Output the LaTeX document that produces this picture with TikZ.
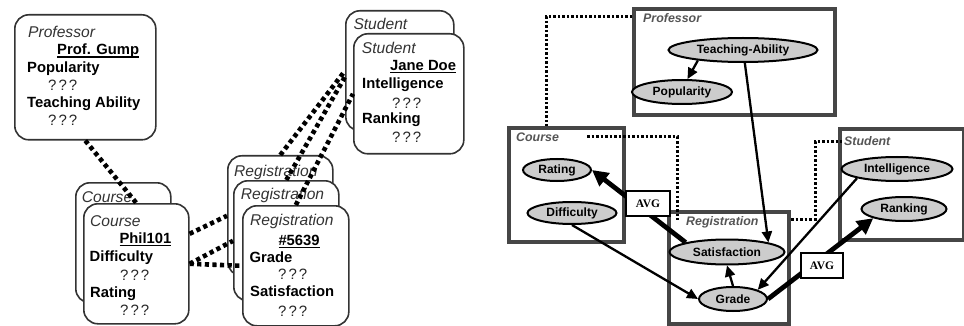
\documentclass[tikz,border=0pt]{standalone}
\usepackage{fontspec}
\setmainfont{Liberation Sans}
\newfontfamily\avgfont{Liberation Serif}
\usetikzlibrary{arrows.meta,shapes.geometric}
\definecolor{cLine}{HTML}{333333}
\definecolor{cFrame}{HTML}{464646}
\definecolor{cTtl}{HTML}{555555}
\definecolor{cVar}{HTML}{CCCCCC}
\tikzset{
  card/.style={rectangle, draw=cLine, line width=1.6pt, rounded corners=14pt, fill=white, anchor=north west, inner sep=0pt},
  ttl/.style={anchor=base west, inner sep=0pt, font=\fontsize{15.6}{18}\selectfont\itshape, text=black!80},
  fld/.style={anchor=base west, inner sep=0pt, font=\fontsize{14.8}{18}\selectfont\bfseries},
  val/.style={anchor=base west, inner sep=0pt, font=\fontsize{15}{18}\selectfont, text=black!85},
  link/.style={line width=4.6pt, dash pattern=on 4.2pt off 3.4pt},
  frame/.style={rectangle, draw=cFrame, line width=4.2pt, anchor=north west, inner sep=0pt},
  fttl/.style={anchor=base west, inner sep=0pt, font=\fontsize{12.4}{14}\selectfont\bfseries\itshape, text=cTtl},
  var/.style={ellipse, draw=black, line width=2pt, fill=cVar, inner sep=0pt, font=\fontsize{12}{14}\selectfont\bfseries},
  avg/.style={rectangle, draw=black, line width=1.8pt, fill=white, inner sep=0pt, font=\avgfont\fontsize{11.5}{13}\selectfont\bfseries},
  arr/.style={line width=2.3pt, -{Triangle[length=11pt,width=10pt]}},
  arrB/.style={line width=4.8pt, -{Triangle[length=16pt,width=16pt]}},
  dlink/.style={line width=3pt, dash pattern=on 2.5pt off 2pt},
}
\newcommand{\uname}[1]{\setbox0=\hbox{#1}\rlap{\rule[-2.6pt]{\wd0}{1.4pt}}\box0}
\newcommand{\qqq}{?\kern2pt?\kern2pt?}

\begin{document}
\begin{tikzpicture}[x=1pt, y=-1pt]
\useasboundingbox (0,0) rectangle (964,326);
% left: objects
\node[card, minimum width=141pt, minimum height=125pt] (prof) at (14,14) {};
\node[ttl] (profT) at (28,38) {Professor};
\node[fld] (profN) at (57,55) {\uname{Prof. Gump}};
\node[fld] (profP) at (27,72.5) {Popularity};
\node[val] (profPv) at (48,90.5) {\qqq};
\node[fld] (profA) at (27,107.5) {Teaching Ability};
\node[val] (profAv) at (48,126) {\qqq};
\foreach \nm/\x/\y/\w/\tx/\ty/\lab in {
  crsB/75/182/95/81.7/202.7/Course, crsF/83/203/105/90/226/Course,
  regB/227/155/105/234/176.7/Registration, regM/233/180/105/240.7/200/Registration,
  regF/242/205/106/250/225/Registration,
  stuB/345/10/108/353.3/30/Student, stuF/353/33/110/361.7/53.3/Student}{
  \node[card, minimum width=\w pt, minimum height=120pt] (\nm) at (\x,\y) {};
  \node[ttl] (\nm T) at (\tx,\ty) {\lab};
}
\node[fld] (crsN) at (119.3,243.3) {\uname{Phil101}};
\node[fld] (crsD) at (89.5,261.7) {Difficulty};
\node[val] (crsDv) at (120,280) {\qqq};
\node[fld] (crsR) at (90,297.3) {Rating};
\node[val] (crsRv) at (120,315.7) {\qqq};
\node[fld] (regN) at (278.3,245.7) {\uname{\#5639}};
\node[fld] (regG) at (249.5,262) {Grade};
\node[val] (regGv) at (278,279.3) {\qqq};
\node[fld] (regS) at (250,296.7) {Satisfaction};
\node[val] (regSv) at (278,316) {\qqq};
\node[fld] (stuN) at (390,70.7) {\uname{Jane Doe}};
\node[fld] (stuI) at (362,88.3) {Intelligence};
\node[val] (stuIv) at (392,108.3) {\qqq};
\node[fld] (stuR) at (362,124) {Ranking};
\node[val] (stuRv) at (392,142.7) {\qqq};
\draw[link] (prof.south) -- (crsF.north);
\draw[link] ([yshift=30pt]crsF.east) -- (regB.west);
\draw[link] (crsF.east) -- (regM.west);
\draw[link] (crsF.east) -- (regF.west);
\draw[link] (regB.north) -- (stuB.west);
\draw[link] (regM.north) -- ([yshift=-6pt]stuB.west);
\draw[link] (regF.north) -- (stuF.west);
% right: model
\node[frame, minimum width=201pt, minimum height=106pt] (profM) at (632,7) {};
\node[frame, minimum width=115pt, minimum height=114pt] (crsM) at (507,126) {};
\node[frame, minimum width=120pt, minimum height=112pt] (regM2) at (667,210) {};
\node[frame, minimum width=124pt, minimum height=111pt] (stuM) at (838,127) {};
\node[fttl] (profMt) at (643,23) {Professor};
\node[fttl] (crsMt) at (516,142) {Course};
\node[fttl] (regMt) at (686,225) {Registration};
\node[fttl] (stuMt) at (844,146) {Student};
\coordinate (pc1) at (632,17);
\coordinate (pc2) at (546,126);
\coordinate (cr1) at (587,137);
\coordinate (cr2) at (677,220);
\coordinate (rs1) at (791,219);
\coordinate (rs2) at (842,142);
\draw[dlink] (pc1) -| (pc2);
\draw[dlink] (cr1) -| (cr2);
\draw[dlink] (rs1) -- ++(24,0) |- (rs2);
\node[var, minimum width=149pt, minimum height=24pt] (ta) at (743,50) {Teaching-Ability};
\node[var, minimum width=100pt, minimum height=24pt] (pop) at (682,92) {Popularity};
\node[var, minimum width=68pt, minimum height=22pt] (rat) at (557,170) {Rating};
\node[var, minimum width=89pt, minimum height=22pt] (dif) at (572,213) {Difficulty};
\node[var, minimum width=115pt, minimum height=25pt] (sat) at (727,252) {Satisfaction};
\node[var, minimum width=68pt, minimum height=24pt] (grd) at (733,299) {Grade};
\node[var, minimum width=111pt, minimum height=24pt] (int) at (897,169) {Intelligence};
\node[var, minimum width=85pt, minimum height=24pt] (rnk) at (904,209) {Ranking};
\draw[arr] (ta.193) -- (pop.67);
\draw[arr] (ta.278) -- (sat.north east);
\draw[arr] (dif.south) -- (grd.west);
\draw[arr] (grd.north) -- (sat.south);
\draw[arr] (int.south west) -- (grd.north east);
\draw[arrB] (sat.north west) -- (rat.east);
\draw[arrB] (grd.east) -- (rnk.south west);
\node[avg, minimum width=44pt, minimum height=25pt] (avgC) at (648,203.5) {AVG};
\node[avg, minimum width=42pt, minimum height=25pt] (avgS) at (822,265.5) {AVG};
\end{tikzpicture}
\end{document}
